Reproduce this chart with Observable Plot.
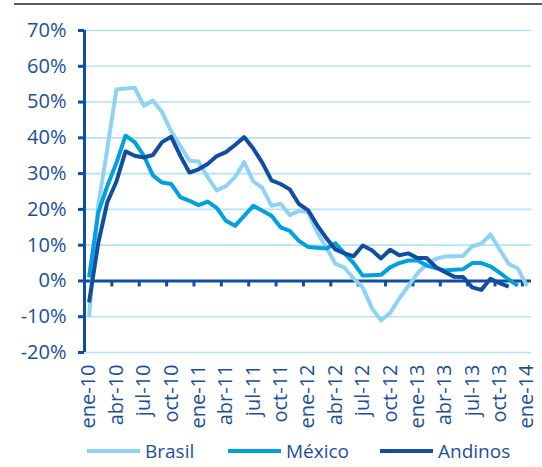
<!DOCTYPE html>
<html>
<head>
<meta charset="utf-8">
<script src="https://cdn.jsdelivr.net/npm/d3@7"></script>
<script src="https://cdn.jsdelivr.net/npm/@observablehq/plot@0.6"></script>
<style>
  body { margin: 0; background: #ffffff; font-family: "Open Sans", sans-serif; }
  #wrap { position: relative; width: 542px; height: 467px; overflow: hidden; }
  #chart { position: absolute; left: 0; top: 0; }
  #topline { position: absolute; left: 14px; right: 0; top: 3px; height: 2px; background: #5a5a5a; }
  .leg { position: absolute; top: 438px; display: flex; align-items: center; font-size: 19px; color: #1a4f9c; white-space: nowrap; }
  .leg .sw { display: inline-block; width: 53px; height: 4px; margin-right: 5px; }
</style>
</head>
<body>
<div id="wrap">
  <div id="chart"></div>
  <div id="topline"></div>
  <div id="legend"></div>
</div>
<script>
// Category axis: 49 monthly periods from ene-10 to ene-14
const tickLabels = ["ene-10","abr-10","jul-10","oct-10","ene-11","abr-11","jul-11","oct-11",
  "ene-12","abr-12","jul-12","oct-12","ene-13","abr-13","jul-13","oct-13","ene-14"];
const nMonths = 49;

const seriesNames = ["Brasil", "México", "Andinos"];
const seriesColors = ["#8fd3f4", "#00a0e1", "#114ea1"];

const brasil = [-10, 21, 37, 53.5, 53.8, 54, 49, 50.4, 47.2, 41.8, 37.8, 33.6, 33.4, 29, 25.3, 26.5,
  29, 33.2, 27.8, 26, 21, 21.6, 18.4, 19.6, 19.2, 13.6, 9.4, 4.8, 3.7, 0.7, -1.8, -7.6,
  -11, -9, -4.9, -1.4, 2.1, 4.7, 6.2, 6.8, 6.9, 7, 9.7, 10.4, 13, 8.8, 4.8, 3.5, -1.4];
const mexico = [1, 19, 26.5, 33, 40.6, 38.8, 35, 29.5, 27.5, 27.1, 23.4, 22.4, 21.2, 22.2, 20.4, 16.8,
  15.4, 18.2, 21, 19.6, 18.2, 15, 14, 11.2, 9.5, 9.3, 9.1, 10.5, 7.7, 5, 1.5, 1.6,
  1.7, 3.8, 5, 5.7, 5.8, 4.3, 3.6, 2.9, 3.1, 3.3, 5, 5, 4.1, 2.3, 0.4, -1.3, null];
const andinos = [-6, 10.5, 22, 27.8, 36.2, 35, 34.5, 35.2, 38.8, 40.3, 35, 30.3, 31.2, 32.7, 34.9, 36,
  38, 40.2, 37, 33, 28.1, 27.1, 25.6, 21.5, 19.8, 15.6, 12, 8.8, 7.7, 6.9, 9.9, 8.6,
  6.3, 8.7, 7.2, 7.7, 6.4, 6.4, 3.9, 2.5, 1.2, 1.1, -1.8, -2.5, 0.6, -0.6, -1.6, null, null];

const yTicks = [-20, -10, 0, 10, 20, 30, 40, 50, 60, 70];

const textColor = "#1a4f9c";
const axisColor = "#0e4fa3";
const gridColor = "#b5e3f7";

// Build table from the named arrays
const seriesValues = [brasil, mexico, andinos];
const data = [];
seriesNames.forEach((name, s) => {
  seriesValues[s].forEach((v, i) => data.push({ i, value: v, series: name }));
});

const tickIdx = tickLabels.map((_, k) => k * 3);           // category centers for labels
const labelOf = new Map(tickIdx.map((d, k) => [d, tickLabels[k]]));
const boundaries = tickIdx.slice(1).map(d => d - 0.5);   // tick marks between categories
const xDomain = [-0.5, nMonths - 0.5];

const chart = Plot.plot({
  width: 542,
  height: 440,
  marginLeft: 84,
  marginRight: 11,
  marginTop: 30,
  marginBottom: 88,
  style: { fontFamily: "Open Sans, sans-serif", fontSize: "20px", color: textColor, background: "#ffffff" },
  x: { type: "linear", domain: xDomain, axis: null },
  y: { domain: [-20, 70], axis: null },
  color: { domain: seriesNames, range: seriesColors },
  marks: [
    Plot.gridY(yTicks.filter(d => d !== 0), { stroke: gridColor, strokeOpacity: 1, strokeWidth: 1.6 }),
    Plot.axisY(yTicks, {
      label: null,
      tickFormat: d => d + "%", tickSize: 6, tickPadding: 12, fontSize: 20,
      fill: textColor, stroke: axisColor, strokeWidth: 3
    }),
    Plot.ruleX([xDomain[0]], { y1: -20, y2: 70, stroke: axisColor, strokeWidth: 3 }),
    Plot.ruleY([0], { stroke: axisColor, strokeWidth: 3 }),
    Plot.ruleX(boundaries, { x: d => d, y1: 0, y2: 0, insetBottom: -6, stroke: axisColor, strokeWidth: 3 }),
    Plot.axisX(tickIdx, {
      label: null,
      tickFormat: d => labelOf.get(d), tickRotate: -90, tickSize: 0, tickPadding: 12,
      fontSize: 20, fill: textColor
    }),
    Plot.line(data, {
      x: "i", y: "value", z: "series", stroke: "series", strokeWidth: 4,
      strokeLinejoin: "round", strokeLinecap: "butt"
    })
  ]
});
document.getElementById("chart").appendChild(chart);

// Legend below the chart
const legendLeft = [87, 228, 380];
const legend = document.getElementById("legend");
seriesNames.forEach((name, s) => {
  const item = document.createElement("div");
  item.className = "leg";
  item.style.left = legendLeft[s] + "px";
  const sw = document.createElement("span");
  sw.className = "sw";
  sw.style.background = seriesColors[s];
  const t = document.createElement("span");
  t.textContent = name;
  item.appendChild(sw);
  item.appendChild(t);
  legend.appendChild(item);
});
</script>
</body>
</html>
